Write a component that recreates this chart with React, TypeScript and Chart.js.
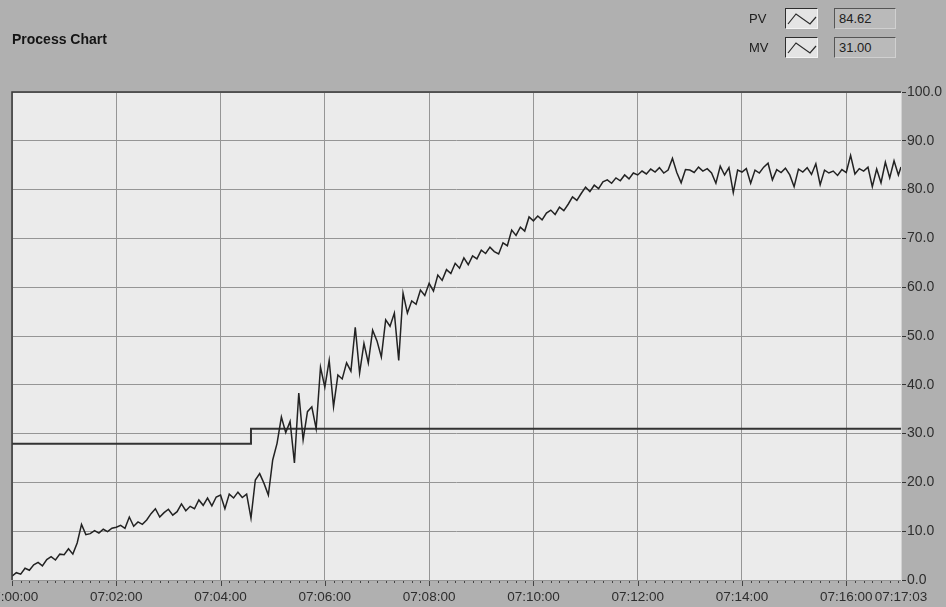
import React, { useEffect, useRef } from "react";
import { Chart, registerables } from "chart.js";

Chart.register(...registerables);

// ---- Data ----
const chartTitle = "Process Chart";
const baseHour = 7;
const xTickSeconds = [0, 120, 240, 360, 480, 600, 720, 840, 960, 1023];
const yTickValues = [0, 10, 20, 30, 40, 50, 60, 70, 80, 90, 100];
const sampleSeconds = 5;
const endSeconds = 1023;

// PV samples every 5 s from 07:00:00 (last sample at 07:17:03)
const pvValues = [
  // 07:00
  0.8, 1.5, 1.2, 2.4, 2.0, 3.1, 3.6, 2.9, 4.2, 4.8, 4.1, 5.3,
  // 07:01
  5.2, 6.4, 5.3, 7.6, 11.4, 9.3, 9.5, 10.1, 9.6, 10.4, 9.9, 10.6,
  // 07:02
  10.8, 11.2, 10.6, 12.9, 11.0, 11.9, 11.4, 12.3, 13.6, 14.6, 12.9, 13.8,
  // 07:03
  14.5, 13.3, 14.0, 15.6, 14.2, 15.1, 14.6, 16.4, 15.3, 16.8, 15.2, 17.0,
  // 07:04
  17.4, 14.6, 17.6, 16.8, 18.0, 16.9, 17.6, 12.7, 20.5, 21.8, 19.8, 17.4,
  // 07:05
  24.6, 28.0, 33.4, 30.2, 32.5, 24.0, 38.3, 28.7, 34.5, 35.5, 31.0, 43.6,
  // 07:06
  39.5, 45.0, 35.5, 42.0, 41.2, 44.5, 42.8, 51.8, 42.4, 48.5, 44.5, 51.2,
  // 07:07
  49.0, 45.7, 53.3, 52.0, 54.7, 45.0, 58.8, 54.7, 57.2, 56.5, 59.4, 58.3,
  // 07:08
  60.8, 59.2, 62.5, 61.4, 63.6, 62.8, 64.9, 63.9, 66.0, 64.6, 66.4, 65.8,
  // 07:09
  67.6, 66.9, 68.2, 67.3, 66.8, 69.1, 68.5, 71.7, 70.6, 72.3, 71.5, 74.4,
  // 07:10
  73.6, 74.6, 73.8, 75.2, 75.8, 74.9, 76.4, 75.7, 77.0, 78.5, 77.8, 79.2,
  // 07:11
  80.5, 79.6, 80.9, 80.2, 81.6, 82.0, 81.3, 82.4, 81.8, 83.0, 82.2, 83.4,
  // 07:12
  83.0, 83.8, 83.2, 84.2, 83.6, 84.5, 83.4, 84.0, 86.4, 83.5, 81.4, 84.1,
  // 07:13
  84.0, 83.5, 84.6, 83.8, 84.3, 83.4, 81.3, 84.8, 83.0, 84.5, 79.4, 84.0,
  // 07:14
  83.6, 84.3, 81.3, 84.0, 83.4, 84.6, 85.4, 82.0, 84.1, 83.5, 84.4, 83.0,
  // 07:15
  80.6, 84.2, 83.6, 84.5, 83.1, 85.3, 81.0, 84.0, 83.4, 83.8, 82.9, 84.1,
  // 07:16
  83.5, 87.0, 83.2, 84.3, 83.8, 84.6, 80.6, 84.2, 81.4, 85.6, 82.4, 85.9,
  // 07:17
  83.0, 84.62,
];

// MV (controller output) steps
const mvSeconds = [0, 275, 275, 1023];
const mvValues = [27.9, 27.9, 31.0, 31.0];

const legendNames = ["PV", "MV"];
const legendReadouts = ["84.62", "31.00"];

// ---- helpers ----
const pad2 = (n: number) => String(n).padStart(2, "0");
const fmtTime = (s: number) => {
  const m = Math.floor(s / 60);
  const sec = Math.round(s - m * 60);
  return `${pad2(baseHour)}:${pad2(m)}:${pad2(sec)}`;
};

const FONT = "'Liberation Sans', Arial, sans-serif";

const frame = {
  id: "frame",
  beforeDraw(chart: any) {
    const { ctx, chartArea: a, width, height } = chart;
    ctx.save();
    ctx.fillStyle = "#b0b0b0";
    ctx.fillRect(0, 0, width, height);
    ctx.fillStyle = "#ebebeb";
    ctx.fillRect(a.left, a.top, a.right - a.left, a.bottom - a.top);
    ctx.restore();
  },
  afterDraw(chart: any) {
    const { ctx, chartArea: a } = chart;
    const xs = chart.scales.x;
    ctx.save();
    // sunken border left/top
    ctx.strokeStyle = "#3a3a3a";
    ctx.lineWidth = 1.5;
    ctx.beginPath();
    ctx.moveTo(a.left, a.bottom);
    ctx.lineTo(a.left, a.top);
    ctx.lineTo(a.right, a.top);
    ctx.stroke();
    // minor ticks along bottom
    ctx.strokeStyle = "#444";
    ctx.lineWidth = 1;
    for (let s = 0; s <= endSeconds; s += 10) {
      const px = Math.round(xs.getPixelForValue(s)) + 0.5;
      const major = s % 120 === 0;
      ctx.beginPath();
      ctx.moveTo(px, a.bottom + 1);
      ctx.lineTo(px, a.bottom + (major ? 6 : 3));
      ctx.stroke();
    }
    ctx.restore();
  },
};

function LegendIcon() {
  return (
    <div
      style={{
        position: "absolute",
        width: 33,
        height: 21,
        background: "#e4e4e4",
        borderTop: "1px solid #2e2e2e",
        borderLeft: "1px solid #2e2e2e",
        borderRight: "1px solid #f4f4f4",
        borderBottom: "1px solid #f4f4f4",
        boxSizing: "border-box",
      }}
    >
      <svg width="31" height="19" style={{ position: "absolute", left: 0, top: 0 }}>
        <polyline
          points="2,15 10,5 24,15 30,8"
          fill="none"
          stroke="#2a2a2a"
          strokeWidth="1.2"
        />
      </svg>
    </div>
  );
}

export default function App() {
  const canvasRef = useRef<HTMLCanvasElement | null>(null);

  useEffect(() => {
    const canvas = canvasRef.current;
    if (!canvas) return;
    const pvData = pvValues.map((v, i) => ({
      x: Math.min(i * sampleSeconds, endSeconds),
      y: v,
    }));
    const mvData = mvValues.map((v, i) => ({ x: mvSeconds[i], y: v }));

    const chart = new Chart(canvas, {
      type: "line",
      data: {
        datasets: [
          {
            label: legendNames[0],
            data: pvData,
            borderColor: "#222222",
            borderWidth: 1.5,
            pointRadius: 0,
            tension: 0,
          },
          {
            label: legendNames[1],
            data: mvData,
            borderColor: "#333333",
            borderWidth: 2,
            pointRadius: 0,
            tension: 0,
          },
        ],
      },
      options: {
        responsive: false,
        animation: false,
        events: [],
        layout: { padding: { left: 12, right: 0, top: 0, bottom: 0 } },
        plugins: {
          legend: { display: false },
          tooltip: { enabled: false },
          title: {
            display: true,
            text: chartTitle,
            align: "start",
            color: "#141414",
            font: { family: FONT, size: 14, weight: "bold" },
            padding: { top: 32, bottom: 43.2 },
          },
        },
        scales: {
          x: {
            type: "linear",
            min: 0,
            max: endSeconds,
            afterBuildTicks: (scale: any) => {
              scale.ticks = xTickSeconds.map((v) => ({ value: v }));
            },
            afterFit: (scale: any) => {
              scale.height = 27;
              scale.paddingLeft = 0;
              scale.paddingRight = 0;
            },
            ticks: {
              autoSkip: false,
              maxRotation: 0,
              minRotation: 0,
              padding: 9,
              color: "#2e2e2e",
              font: { family: FONT, size: 13.5 },
              callback: (v: any) => fmtTime(Number(v)),
            },
            grid: {
              color: "#959595",
              lineWidth: 1,
              drawTicks: false,
              tickLength: 4,
            },
            border: { display: false },
          },
          y: {
            position: "right",
            min: 0,
            max: 100,
            afterBuildTicks: (scale: any) => {
              scale.ticks = yTickValues.map((v) => ({ value: v }));
            },
            afterFit: (scale: any) => {
              scale.width = 45;
              scale.paddingTop = 0;
              scale.paddingBottom = 0;
            },
            ticks: {
              padding: 1,
              color: "#2e2e2e",
              font: { family: FONT, size: 14 },
              callback: (v: any) => Number(v).toFixed(1),
            },
            grid: {
              color: "#959595",
              lineWidth: 1,
              drawTicks: true,
              tickLength: 5,
              tickColor: "#333",
            },
            border: { display: true, color: "#d2d2d2" },
          },
        },
      },
      plugins: [frame],
    } as any);
    return () => chart.destroy();
  }, []);

  const rowTops = [8, 37];
  return (
    <div
      style={{
        position: "absolute",
        left: 0,
        top: 0,
        width: 946,
        height: 607,
        overflow: "hidden",
      }}
    >
      <canvas ref={canvasRef} width={946} height={607} style={{ display: "block" }} />
      {legendNames.map((name, i) => (
        <React.Fragment key={name}>
          <div
            style={{
              position: "absolute",
              left: 749,
              top: rowTops[i] + 3,
              font: `13px ${FONT}`,
              color: "#202020",
            }}
          >
            {name}
          </div>
          <div style={{ position: "absolute", left: 785, top: rowTops[i] }}>
            <LegendIcon />
          </div>
          <div
            style={{
              position: "absolute",
              left: 834,
              top: rowTops[i],
              width: 62,
              height: 21,
              boxSizing: "border-box",
              background: "#bababa",
              borderTop: "1px solid #555",
              borderLeft: "1px solid #555",
              borderRight: "1px solid #d0d0d0",
              borderBottom: "1px solid #d0d0d0",
              font: `13px ${FONT}`,
              color: "#202020",
              padding: "2px 0 0 4px",
            }}
          >
            {legendReadouts[i]}
          </div>
        </React.Fragment>
      ))}
    </div>
  );
}
